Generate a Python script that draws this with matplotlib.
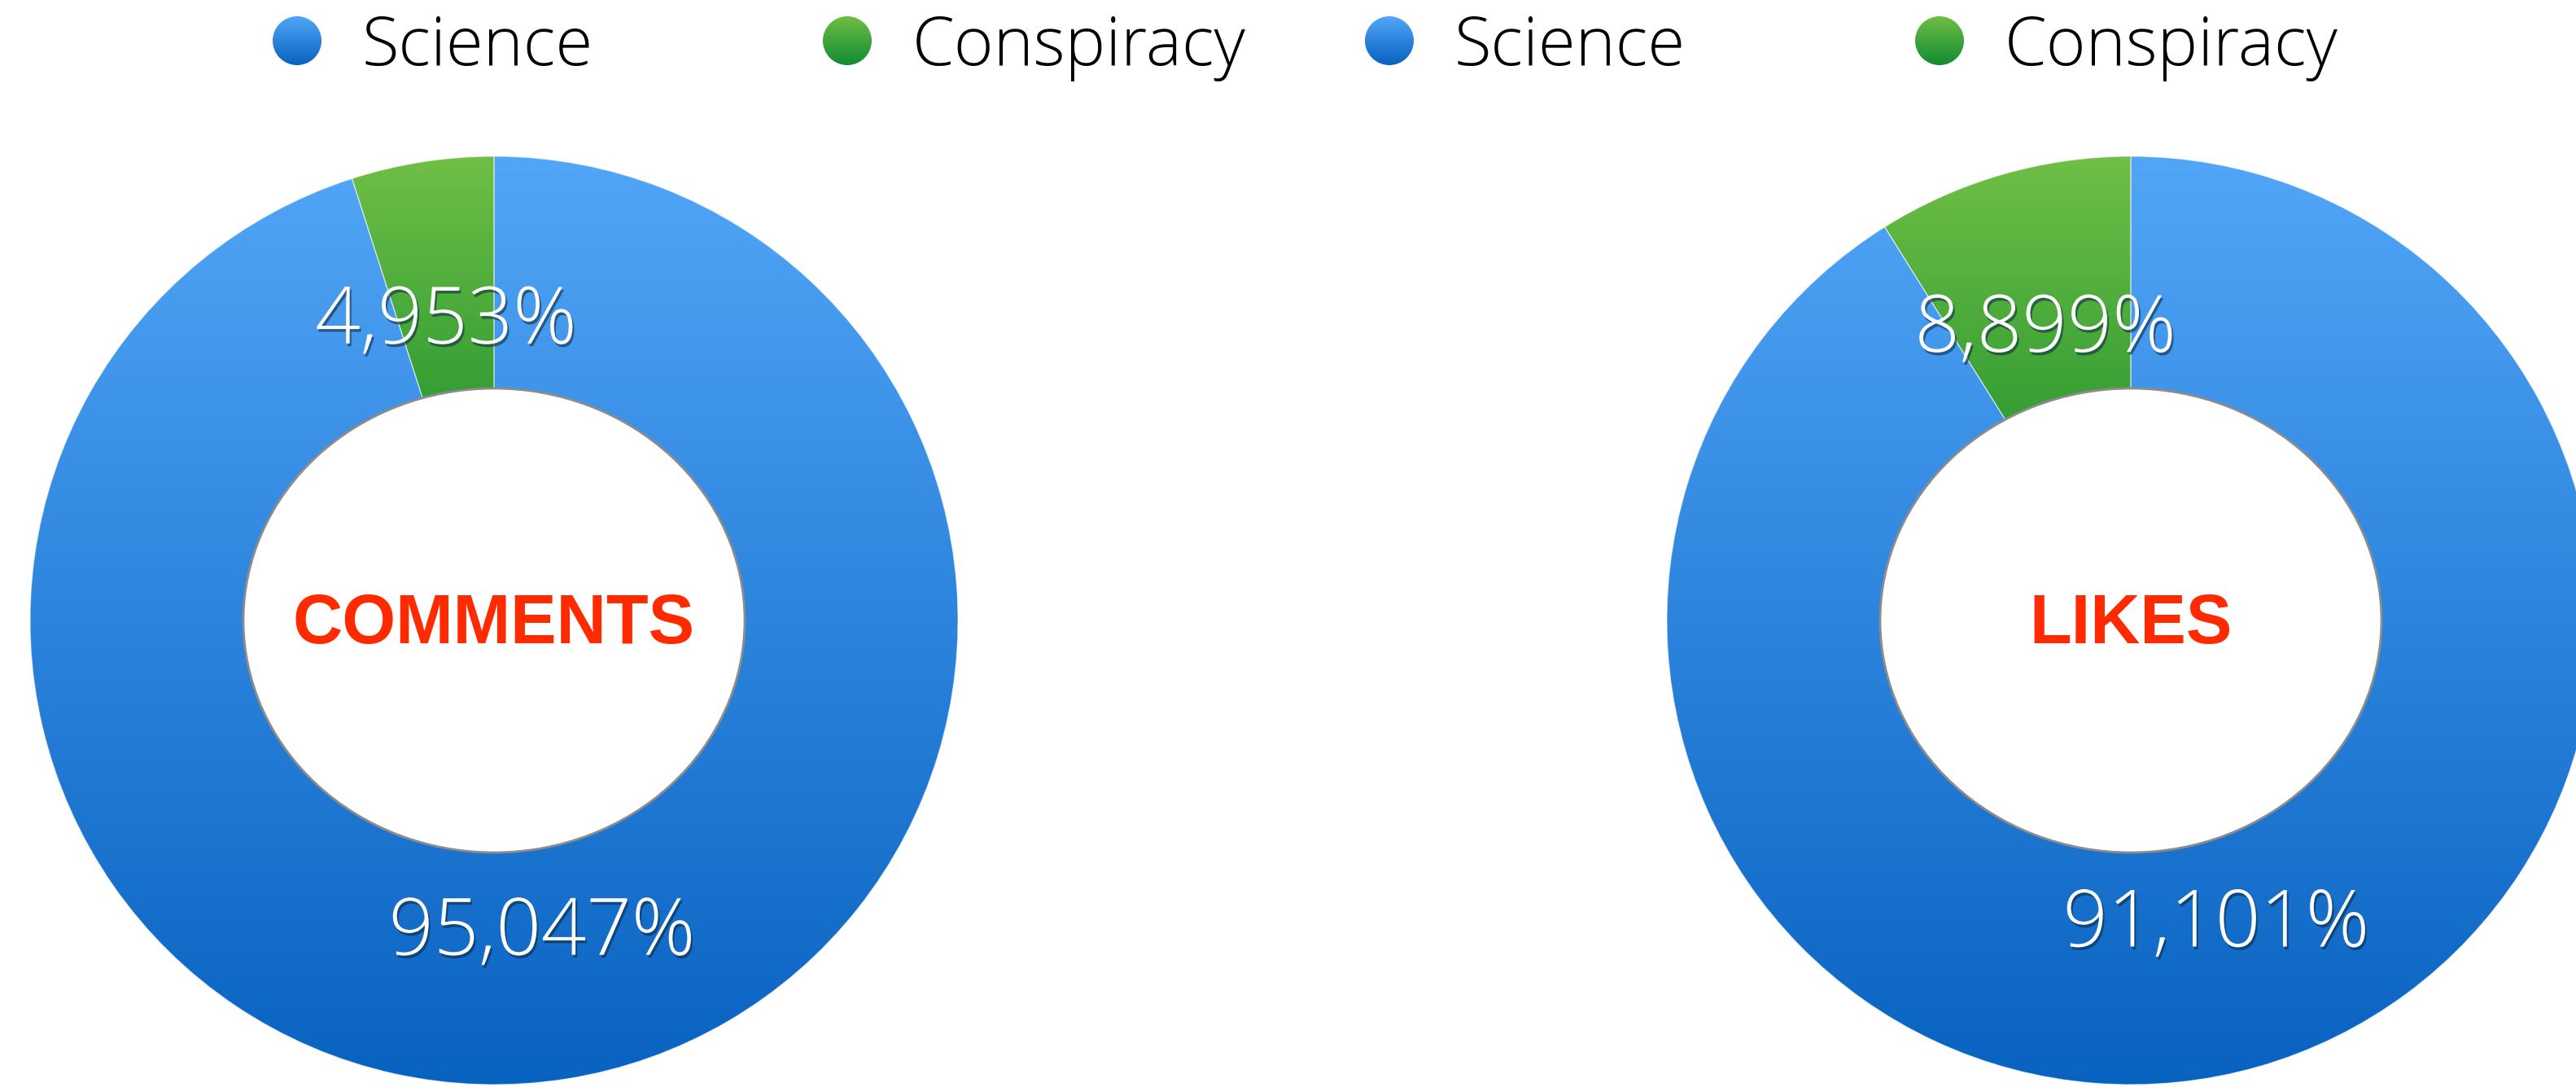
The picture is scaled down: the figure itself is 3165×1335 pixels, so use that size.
import numpy as np
import matplotlib
matplotlib.use("Agg")
import matplotlib.pyplot as plt
import matplotlib.patheffects as pe
from matplotlib.patches import Ellipse, Circle

# data
metrics = ["COMMENTS", "LIKES"]
seriesNames = ["Science", "Conspiracy"]
sciencePct = [95.047, 91.101]
conspiracyPct = [4.953, 8.899]

# gradient colours (top, bottom) for each series
blueGrad = [(82, 166, 248), (8, 98, 192)]
greenGrad = [(112, 191, 70), (52, 158, 52)]
greenLegendGrad = [(110, 190, 68), (18, 140, 50)]

W, H = 3165, 1335
centersX = [607, 2618]
centerY = H - 762
outerR = 570
holeRx, holeRy = 308, 285
labelR = 380
lightFont = ["Open Sans", "DejaVu Sans"]


def gradientImage(top, bottom, n=256):
    top = np.array(top) / 255.0
    bottom = np.array(bottom) / 255.0
    t = np.linspace(0, 1, n)[:, None]
    img = top + (bottom - top) * t
    return img[:, None, :]


def fillGradient(ax, patch, top, bottom, zorder=2):
    ext = patch.get_path().get_extents(patch.get_patch_transform())
    im = ax.imshow(gradientImage(top, bottom), extent=[ext.x0, ext.x1, ext.y0, ext.y1],
                   origin="upper", aspect="auto", interpolation="bilinear", zorder=zorder)
    im.set_clip_path(patch)


def fmtPct(v):
    return "{:.3f}".format(v).replace(".", ",") + "%"


def drawDonut(ax, cx, name, sci, cons):
    values = [cons, sci]
    grads = [greenGrad, blueGrad]
    wedges, _ = ax.pie(values, startangle=90, counterclock=True, center=(cx, centerY),
                       radius=outerR, wedgeprops=dict(width=outerR - holeRy),
                       frame=True)
    for w, g in zip(wedges, grads):
        w.set_facecolor("none")
        w.set_edgecolor((1, 1, 1, 0.55))
        w.set_linewidth(0.8)
        w.set_zorder(3)
        fillGradient(ax, w, g[0], g[1])

    hole = Ellipse((cx, centerY), 2 * holeRx, 2 * holeRy, facecolor="white",
                   edgecolor="#8c8c8c", linewidth=2, zorder=4)
    ax.add_patch(hole)

    # percentage labels at the middle of each wedge
    start = 90.0
    total = float(sum(values))
    for v in values:
        mid = np.deg2rad(start + v / total * 360 / 2)
        start += v / total * 360
        ax.text(cx + labelR * np.cos(mid), centerY + labelR * np.sin(mid) - 10, fmtPct(v),
                ha="center", va="center", color="white", fontsize=70,
                family=lightFont, fontweight="light", zorder=6,
                path_effects=[pe.withSimplePatchShadow(offset=(1.5, -2.5),
                                                       shadow_rgbFace="#0b2540", alpha=0.55)])

    ax.text(cx, centerY - 6, name, ha="center", va="center", color="#ff2a00",
            fontsize=61, family="Liberation Sans", fontweight="bold", zorder=6)


def drawLegend(ax):
    markerX = [365, 1041, 1707, 2383]
    names = seriesNames * 2
    grads = [blueGrad, greenLegendGrad] * 2
    y = H - 50
    for x, n, g in zip(markerX, names, grads):
        c = Circle((x, y), 30, facecolor="none", edgecolor="none", zorder=3)
        ax.add_patch(c)
        fillGradient(ax, c, g[0], g[1])
        ax.text(x + 80, H - 80, n, ha="left", va="baseline", fontsize=60, color="black",
                family=lightFont, fontweight="light")


def main():
    fig = plt.figure(figsize=(W / 100, H / 100), dpi=100)
    ax = fig.add_axes([0, 0, 1, 1])
    for cx, name, sci, cons in zip(centersX, metrics, sciencePct, conspiracyPct):
        drawDonut(ax, cx, name, sci, cons)
    drawLegend(ax)
    ax.set_xlim(0, W)
    ax.set_ylim(0, H)
    ax.set_aspect("auto")
    ax.axis("off")
    fig.savefig("out.png", dpi=100, facecolor="white")


main()
